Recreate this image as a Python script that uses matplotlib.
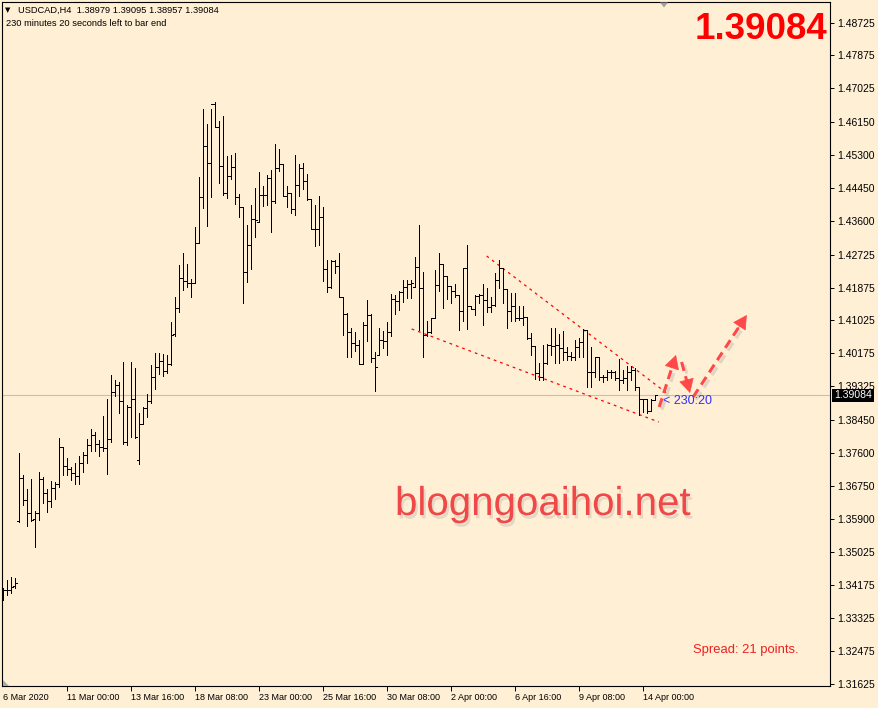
import matplotlib
matplotlib.use('Agg')
import matplotlib.pyplot as plt
import matplotlib.patheffects as pe
from matplotlib.collections import LineCollection
from matplotlib.transforms import blended_transform_factory
from matplotlib.patches import Polygon
import numpy as np

plt.rcParams['font.family'] = ['Liberation Sans', 'DejaVu Sans']

# ---------------- data (USDCAD H4) ----------------
opens = [
    1.33848, 1.34055, 1.34055, 1.34158, 1.35838, 1.36950, 1.36382, 1.36045, 1.35890, 1.36045,
    1.36924, 1.36562, 1.36356, 1.36692, 1.36796, 1.37752, 1.37261, 1.37183, 1.37079, 1.37002,
    1.37338, 1.37545, 1.37804, 1.38062, 1.37830, 1.37752, 1.37726, 1.37958, 1.39174, 1.39355,
    1.38941, 1.37881, 1.38786, 1.38993, 1.37416, 1.38347, 1.38760, 1.38941, 1.39562, 1.39820,
    1.39975, 1.39717, 1.39898, 1.40674, 1.41346, 1.42121, 1.42044, 1.41992, 1.41992, 1.43026,
    1.44216, 1.45534, 1.45094, 1.46621, 1.46025, 1.45017, 1.44320, 1.44759, 1.44991, 1.44216,
    1.43957, 1.42276, 1.42974, 1.43646, 1.43569, 1.44268, 1.44268, 1.44707, 1.44112, 1.44965,
    1.45069, 1.44242, 1.44320, 1.43905, 1.44526, 1.44965, 1.44629, 1.44164, 1.43388, 1.43388,
    1.43698, 1.42354, 1.41889, 1.42561, 1.42432, 1.41630, 1.41190, 1.40725, 1.40440, 1.40389,
    1.39898, 1.40906, 1.41165, 1.40053, 1.40131, 1.40518, 1.40492, 1.40725, 1.41578, 1.41527,
    1.41759, 1.41889, 1.41967, 1.41889, 1.42406, 1.41863, 1.40648, 1.40725, 1.41087, 1.41941,
    1.42484, 1.42173, 1.41915, 1.41785, 1.41682, 1.41268, 1.42380, 1.41398, 1.41320, 1.41656,
    1.41682, 1.41553, 1.41372, 1.41424, 1.42070, 1.42380, 1.41837, 1.41268, 1.41398, 1.41087,
    1.41087, 1.41113, 1.40570, 1.40363, 1.39665, 1.39562, 1.39923, 1.40389, 1.40363, 1.40389,
    1.40311, 1.40208, 1.40105, 1.40079, 1.40337, 1.40466, 1.40777, 1.39691, 1.39691, 1.40079,
    1.39562, 1.39562, 1.39691, 1.39691, 1.39536, 1.39484, 1.39536, 1.39691, 1.39743, 1.39303,
    1.38993, 1.38993, 1.38682, 1.38979,
]
highs = [
    1.34106, 1.34313, 1.34391, 1.34365, 1.37596, 1.37028, 1.36666, 1.36924, 1.36097, 1.37105,
    1.36976, 1.36666, 1.36873, 1.36847, 1.37984, 1.37752, 1.37467, 1.37235, 1.37338, 1.37519,
    1.37622, 1.37958, 1.38217, 1.38139, 1.37933, 1.38553, 1.38993, 1.39614, 1.39484, 1.39432,
    1.39949, 1.38838, 1.39949, 1.39794, 1.38630, 1.38786, 1.39123, 1.39872, 1.40182, 1.40182,
    1.40157, 1.40131, 1.40983, 1.41630, 1.42458, 1.42767, 1.42484, 1.42095, 1.43440, 1.44733,
    1.46491, 1.46103, 1.46491, 1.46672, 1.46180, 1.46310, 1.45276, 1.45302, 1.45353, 1.44294,
    1.43957, 1.43492, 1.44009, 1.44449, 1.44862, 1.44500, 1.44785, 1.44914, 1.45586, 1.45457,
    1.45069, 1.44500, 1.44320, 1.45302, 1.45069, 1.45094, 1.44811, 1.44164, 1.44009, 1.44242,
    1.43957, 1.42587, 1.42587, 1.42587, 1.42767, 1.41630, 1.41216, 1.40828, 1.40725, 1.40518,
    1.40983, 1.41553, 1.41190, 1.40208, 1.40828, 1.40751, 1.40983, 1.41708, 1.41682, 1.41785,
    1.42070, 1.42070, 1.42070, 1.42664, 1.43492, 1.42276, 1.41009, 1.41087, 1.42328, 1.42768,
    1.42484, 1.42173, 1.41915, 1.41967, 1.41682, 1.42380, 1.42974, 1.41398, 1.41682, 1.41708,
    1.41967, 1.41863, 1.41630, 1.42250, 1.42587, 1.42380, 1.41837, 1.41733, 1.41733, 1.41398,
    1.41398, 1.41113, 1.40700, 1.40363, 1.39923, 1.40389, 1.40415, 1.40828, 1.40828, 1.40674,
    1.40751, 1.40337, 1.40208, 1.40518, 1.40570, 1.40803, 1.40777, 1.40337, 1.40079, 1.40079,
    1.39614, 1.39743, 1.39743, 1.39717, 1.40027, 1.39743, 1.39846, 1.39846, 1.39794, 1.39303,
    1.38993, 1.38993, 1.38993, 1.39095,
]
lows = [
    1.33796, 1.33926, 1.33977, 1.34106, 1.35812, 1.36253, 1.35709, 1.35838, 1.35166, 1.35864,
    1.36304, 1.36071, 1.36201, 1.36407, 1.36718, 1.37028, 1.37028, 1.36899, 1.36796, 1.36796,
    1.37105, 1.37338, 1.37648, 1.37648, 1.37519, 1.37648, 1.37054, 1.37881, 1.39071, 1.38630,
    1.37830, 1.37804, 1.38010, 1.37984, 1.37313, 1.38347, 1.38527, 1.38889, 1.39251, 1.39640,
    1.39588, 1.39665, 1.39872, 1.40622, 1.41242, 1.41811, 1.41889, 1.41630, 1.41992, 1.43026,
    1.43931, 1.43466, 1.44216, 1.46025, 1.44577, 1.44268, 1.44190, 1.44681, 1.44035, 1.43698,
    1.41475, 1.42018, 1.42354, 1.43181, 1.43569, 1.43983, 1.44009, 1.43310, 1.44060, 1.44888,
    1.44242, 1.43957, 1.43802, 1.43750, 1.44242, 1.44423, 1.44138, 1.43388, 1.42948, 1.42974,
    1.42044, 1.41759, 1.41863, 1.42250, 1.41630, 1.40648, 1.40079, 1.40079, 1.40234, 1.39898,
    1.39898, 1.40492, 1.39949, 1.39200, 1.40131, 1.40311, 1.40131, 1.40622, 1.41190, 1.41294,
    1.41501, 1.41604, 1.41604, 1.41889, 1.40777, 1.40079, 1.40622, 1.40700, 1.41087, 1.41785,
    1.41346, 1.41578, 1.41475, 1.41630, 1.40777, 1.41009, 1.40803, 1.41320, 1.41165, 1.41475,
    1.40906, 1.41242, 1.41242, 1.41398, 1.41863, 1.41475, 1.40828, 1.41009, 1.41009, 1.41035,
    1.40906, 1.40544, 1.40131, 1.39510, 1.39484, 1.39484, 1.39898, 1.40131, 1.39923, 1.39923,
    1.40001, 1.40001, 1.40001, 1.40001, 1.40079, 1.40079, 1.39303, 1.39303, 1.39562, 1.39484,
    1.39432, 1.39484, 1.39536, 1.39484, 1.39226, 1.39406, 1.39226, 1.39484, 1.39226, 1.38579,
    1.38657, 1.38631, 1.38708, 1.38957,
]
closes = [
    1.34055, 1.34055, 1.34132, 1.34235, 1.36950, 1.36382, 1.36045, 1.35864, 1.36045, 1.36924,
    1.36562, 1.36356, 1.36692, 1.36796, 1.37752, 1.37261, 1.37183, 1.37079, 1.37002, 1.37338,
    1.37545, 1.37804, 1.38062, 1.37830, 1.37752, 1.37726, 1.37958, 1.39174, 1.39355, 1.38941,
    1.37881, 1.38786, 1.38993, 1.38010, 1.38347, 1.38760, 1.38941, 1.39562, 1.39820, 1.39975,
    1.39717, 1.39898, 1.40648, 1.41346, 1.42121, 1.42044, 1.41992, 1.41992, 1.43026, 1.44216,
    1.45534, 1.45094, 1.46621, 1.46025, 1.45017, 1.44320, 1.44759, 1.44991, 1.44216, 1.43957,
    1.42276, 1.42974, 1.43646, 1.43621, 1.44268, 1.44268, 1.44707, 1.44112, 1.44965, 1.45069,
    1.44242, 1.44320, 1.43905, 1.44526, 1.44965, 1.44629, 1.44164, 1.43388, 1.43388, 1.43698,
    1.42354, 1.41889, 1.42561, 1.42432, 1.41630, 1.41190, 1.40725, 1.40440, 1.40389, 1.39898,
    1.40906, 1.41165, 1.40053, 1.39820, 1.40518, 1.40492, 1.40725, 1.41578, 1.41527, 1.41759,
    1.41889, 1.41967, 1.41992, 1.42406, 1.41863, 1.40648, 1.40725, 1.41087, 1.41941, 1.42484,
    1.42173, 1.41915, 1.41785, 1.41682, 1.41268, 1.42380, 1.41398, 1.41320, 1.41656, 1.41682,
    1.41553, 1.41372, 1.41424, 1.42070, 1.42380, 1.41837, 1.41268, 1.41398, 1.41087, 1.41087,
    1.41113, 1.40570, 1.40363, 1.39665, 1.39562, 1.39923, 1.40389, 1.40363, 1.40389, 1.40311,
    1.40208, 1.40105, 1.40079, 1.40337, 1.40466, 1.40777, 1.39691, 1.39691, 1.40079, 1.39562,
    1.39562, 1.39691, 1.39691, 1.39536, 1.39484, 1.39536, 1.39691, 1.39743, 1.39303, 1.38993,
    1.38993, 1.38682, 1.38967, 1.39084,
]

x_tick_bars = [0, 16, 32, 48, 64, 80, 96, 112, 128, 144, 160]
x_tick_labels = ["6 Mar 2020", "11 Mar 00:00", "13 Mar 16:00", "18 Mar 08:00",
                 "23 Mar 00:00", "25 Mar 16:00", "30 Mar 08:00", "2 Apr 00:00",
                 "6 Apr 16:00", "9 Apr 08:00", "14 Apr 00:00"]
y_ticks = [1.48725, 1.47875, 1.47025, 1.46150, 1.45300, 1.44450, 1.43600, 1.42725,
           1.41875, 1.41025, 1.40175, 1.39325, 1.38450, 1.37600, 1.36750, 1.35900,
           1.35025, 1.34175, 1.33325, 1.32475, 1.31625]
current_price = 1.39084

# trend channel (bar index, price)
upper_line_x = [120.85, 165.85]
upper_line_y = [1.42690, 1.39148]
lower_line_x = [102.1, 163.9]
lower_line_y = [1.40803, 1.38398]

# forecast arrows (bar index, price): start -> end
arrows = [
    ((164.0, 1.38786), (168.2, 1.40131)),
    ((169.6, 1.39949), (171.7, 1.39148)),
    ((172.5, 1.39045), (185.9, 1.41165)),
]

header1 = "USDCAD,H4  1.38979 1.39095 1.38957 1.39084"
header2 = "230 minutes 20 seconds left to bar end"
timer_text = "< 230:20"
spread_text = "Spread: 21 points."
watermark = "blogngoaihoi.net"

# ---------------- figure ----------------
BG = '#FFEFD5'
W, H = 879, 708
fig = plt.figure(figsize=(W / 100, H / 100), dpi=100, facecolor=BG)
ax = fig.add_axes([2.5 / W, 22 / H, 827.5 / W, 684.5 / H], facecolor=BG)
ax.set_xlim(-0.2, 206.7)
ax.set_ylim(1.31572, 1.49270)

def px(x, y):
    return x / W, 1 - y / H

# current price line
ax.axhline(current_price, color='#C0C0C0', lw=0.8, zorder=1)

# OHLC bars
n = len(opens)
segs = []
for i in range(n):
    segs.append([(i, lows[i]), (i, highs[i])])
    segs.append([(i - 0.45, opens[i]), (i, opens[i])])
    segs.append([(i, closes[i]), (i + 0.45, closes[i])])
lc = LineCollection(segs, colors='black', linewidths=0.72, antialiaseds=False, zorder=3)
ax.add_collection(lc)

# trend channel
for xs, ys in [(upper_line_x, upper_line_y), (lower_line_x, lower_line_y)]:
    ax.plot(xs, ys, color='#FF0000', lw=0.9, linestyle=(0, (2.2, 3.2)), zorder=2)

# forecast arrows
ac = '#FF4848'
for (x0, y0), (x1, y1) in arrows:
    ax.plot([x0, x0 + 0.85 * (x1 - x0)], [y0, y0 + 0.85 * (y1 - y0)], color=ac, lw=2.2,
            linestyle=(0, (3.0, 1.8)), dash_capstyle='butt', zorder=5,
            path_effects=[pe.SimpleLineShadow(offset=(2, -2), shadow_color='#999999', alpha=0.3),
                          pe.Normal()])
    ax.annotate('', xy=(x1, y1), xytext=(x0 + 0.75 * (x1 - x0), y0 + 0.75 * (y1 - y0)),
                arrowprops=dict(arrowstyle='-|>,head_length=0.7,head_width=0.38', color=ac,
                                lw=0.5, mutation_scale=13, shrinkA=0, shrinkB=0),
                zorder=5)

# timer text
ax.text(165.0, 1.38928, timer_text, color='#3030FF', fontsize=9, va='center', ha='left', zorder=6)

# axes styling
for s in ax.spines.values():
    s.set_linewidth(0.8)
    s.set_color('black')
ax.yaxis.tick_right()
ax.set_yticks(y_ticks)
ax.set_yticklabels([f"{v:.5f}" for v in y_ticks])
ax.tick_params(axis='y', direction='out', length=3, width=0.7, pad=2.5, labelsize=7.5,
               colors='black')
ax.set_xticks(x_tick_bars)
ax.set_xticklabels(x_tick_labels)
for lab in ax.get_xticklabels():
    lab.set_ha('left')
ax.tick_params(axis='x', direction='out', length=3.5, width=0.7, pad=1.5, labelsize=6.5,
               colors='black')
ax.xaxis.get_major_ticks()[0].tick1line.set_visible(False)

# current price label on axis
tr = blended_transform_factory(ax.transAxes, ax.transData)
ax.text(1.0050, current_price, f"{current_price:.5f}", transform=tr, color='white',
        fontsize=7.5, va='center', ha='left', zorder=10, clip_on=False,
        bbox=dict(facecolor='black', edgecolor='none', pad=1.3))

# header
fig.text(*px(5, 10.5), '\u25BC', fontsize=5, color='black', va='center', ha='left',
         family='DejaVu Sans')
fig.text(*px(18, 10), header1, fontsize=6.7, color='black', va='center', ha='left')
fig.text(*px(6.5, 23), header2, fontsize=6.7, color='black', va='center', ha='left')

# big price
fig.text(*px(827, 39.3), f"{current_price:.5f}", fontsize=26.5, weight='bold', color='#FF0000',
         ha='right', va='baseline')

# watermark
fig.text(*px(395, 515), watermark, fontsize=29, color='#F04848', ha='left', va='baseline',
         path_effects=[pe.withSimplePatchShadow(offset=(1.5, -2.5), shadow_rgbFace='#888888',
                                                alpha=0.22)])

# spread
fig.text(*px(693, 653.3), spread_text, fontsize=9.4, color='#F02020', ha='left',
         va='baseline')

# chart-shift markers
fig.patches.append(Polygon([px(660, 2.5), px(668, 2.5), px(664, 7.5)], closed=True,
                           transform=fig.transFigure, facecolor='#A0A0A0', edgecolor='none'))
fig.patches.append(Polygon([px(3, 680), px(3, 685.5), px(8.5, 685.5)], closed=True,
                           transform=fig.transFigure, facecolor='#A8A8A8', edgecolor='none'))

fig.savefig('out.png', dpi=100, facecolor=BG)
